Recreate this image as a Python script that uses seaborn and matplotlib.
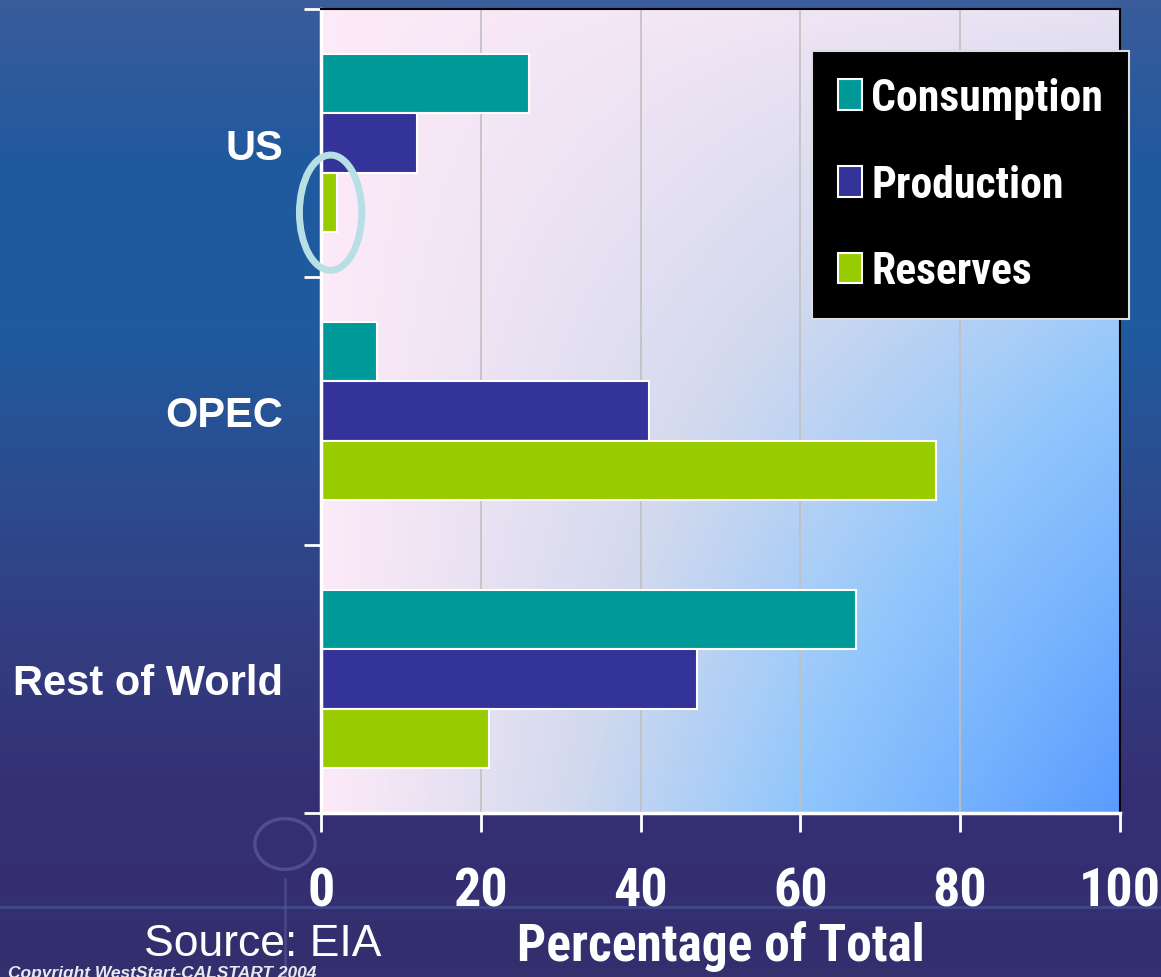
import numpy as np
import pandas as pd
import seaborn as sns
import matplotlib.pyplot as plt
from matplotlib import font_manager as fm
from matplotlib.colors import LinearSegmentedColormap
from matplotlib.patches import Ellipse, Circle

# 数据
regions = ['US', 'OPEC', 'Rest of World']
metrics = ['Consumption', 'Production', 'Reserves']
consumption = [26, 7, 67]
production = [12, 41, 47]
reserves = [2, 77, 21]
x_ticks = [0, 20, 40, 60, 80, 100]

df = pd.DataFrame({
    'Region': regions * 3,
    'Metric': [m for m in metrics for _ in regions],
    'Value': consumption + production + reserves,
})

palette = {'Consumption': '#009999', 'Production': '#333399', 'Reserves': '#99cc00'}

sns.set_theme(style='white')
arial = ['Liberation Sans', 'DejaVu Sans']


# 找一个窄体粗体字体
def find_condensed():
    found = []
    for f in fm.fontManager.ttflist:
        narrowish = ('Narrow' in f.name or 'Condensed' in f.name
                     or 'ondensed' in str(f.stretch) or 'Condensed' in f.fname)
        if narrowish and f.weight in (700, 'bold') and f.style == 'normal':
            found.append(f)
    for pref in ['Liberation Sans Narrow', 'Roboto Condensed', 'DejaVu Sans']:
        for f in found:
            if f.name == pref:
                return f.fname
    return found[0].fname if found else None


cond_file = find_condensed()


def cond(size):
    if cond_file:
        return fm.FontProperties(fname=cond_file, size=size)
    return fm.FontProperties(family='Roboto', weight='bold', size=size * 0.9)


fig = plt.figure(figsize=(11.61, 9.78), dpi=100)

# 幻灯片背景
bg = fig.add_axes([0, 0, 1, 1], zorder=-10)
bg_cmap = LinearSegmentedColormap.from_list(
    'bg', ['#3a5c9a', '#20599e', '#1f5ba0', '#2c4c8e', '#333c80', '#352e74', '#33306e'])
yy = np.linspace(0, 1, 300)[:, None] * np.ones((1, 50))
bg.imshow(yy, cmap=bg_cmap, aspect='auto', extent=[0, 1, 1, 0])
bg.plot([0, 1], [908 / 978, 908 / 978], color='#4a5a9a', lw=2, alpha=0.6)
bg.add_patch(Circle((285 / 1161, 845 / 978), 0.026, fill=False, ec='#55559a',
                    lw=2.5, alpha=0.8))
bg.plot([285 / 1161, 285 / 1161], [880 / 978, 1], color='#55559a', lw=2, alpha=0.6)
bg.set_xlim(0, 1)
bg.set_ylim(1, 0)
bg.axis('off')

ax = fig.add_axes([321 / 1161, 1 - 814 / 978, 799 / 1161, 804 / 978])

sns.barplot(data=df, y='Region', x='Value', hue='Metric', hue_order=metrics,
            order=regions, palette=palette, orient='h', width=0.664,
            edgecolor='white', linewidth=1.5, saturation=1, ax=ax, zorder=2)

ax.set_xlim(0, 100)
ax.set_ylim(2.5, -0.5)

# 绘图区渐变
gx, gy = np.meshgrid(np.linspace(0, 1, 200), np.linspace(0, 1, 200))
t = gx * (0.15 + 0.85 * gy ** 0.8)
plot_cmap = LinearSegmentedColormap.from_list(
    'plot', [(0, '#fdeaf8'), (0.3, '#d4daee'), (0.6, '#90c6fc'), (1, '#5a9cff')])
ax.imshow(t, cmap=plot_cmap, aspect='auto', extent=[0, 100, 2.5, -0.5], zorder=0)

ax.set_xticks(x_ticks)
ax.set_xticklabels([str(v) for v in x_ticks], color='white')
for lab in ax.get_xticklabels():
    lab.set_fontproperties(cond(39))
for v in x_ticks[1:-1]:
    ax.axvline(v, color='#c0c0c0', lw=1.2, zorder=1)
ax.tick_params(axis='x', length=14, width=2, color='white', pad=24, bottom=True)

ax.set_yticks(range(len(regions)))
ax.set_yticklabels(regions, family=arial, fontweight='bold', fontsize=30, color='white')
ax.tick_params(axis='y', length=0, pad=27)
ax.set_yticks([-0.5, 0.5, 1.5, 2.5], minor=True)
ax.tick_params(axis='y', which='minor', length=12, width=2, color='white', left=True)

ax.set_ylabel('')
ax.set_xlabel('Percentage of Total', fontproperties=cond(37), color='white', labelpad=2)

for side in ['left', 'bottom']:
    ax.spines[side].set_color('white')
    ax.spines[side].set_linewidth(2.5)
for side in ['top', 'right']:
    ax.spines[side].set_color('black')
    ax.spines[side].set_linewidth(1.5)

# 标注美国储量的椭圆
ax.add_patch(Ellipse((1.2, 0.26), 7.8, 0.43, fill=False, ec='#b8e0e4', lw=5,
                     clip_on=False, zorder=5))

leg = ax.legend(loc='upper left', bbox_to_anchor=(0.6145, 0.948), borderaxespad=0,
                frameon=True, fancybox=False, facecolor='black', edgecolor='#dddddd',
                framealpha=1, prop=cond(31.5),
                handlelength=0.55, handleheight=0.7, handletextpad=0.2,
                labelspacing=1.02, borderpad=0.6)
for txt in leg.get_texts():
    txt.set_color('white')
leg.get_frame().set_linewidth(1.5)
leg.set_zorder(6)

fig.text(263 / 1161, 1 - 944 / 978, 'Source: EIA', family=arial, fontsize=32,
         color='white', ha='center', va='center')
fig.text(8 / 1161, 1 - 966 / 978, 'Copyright WestStart-CALSTART 2004', family=arial,
         fontsize=12.5, fontweight='bold', style='italic', color='#e8e8f0',
         ha='left', va='top')

fig.savefig('out.png', dpi=100)
